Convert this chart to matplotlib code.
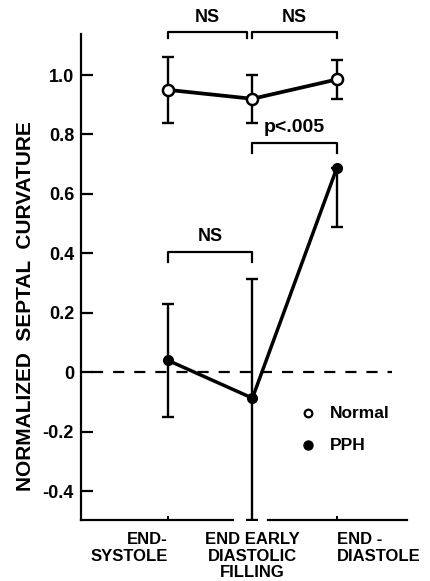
import numpy as np
import matplotlib
matplotlib.use("Agg")
import matplotlib.pyplot as plt

plt.rcParams['font.family'] = ['Liberation Sans', 'DejaVu Sans']
plt.rcParams['font.weight'] = 'bold'

# data
phases = ["END-\nSYSTOLE", "END EARLY\nDIASTOLIC\nFILLING", "END -\nDIASTOLE"]
normal_mean = [0.95, 0.92, 0.985]
normal_err = [0.11, 0.08, 0.065]
pph_mean = [0.04, -0.087, 0.687]
pph_err_low = [0.19, 0.41, 0.20]
pph_err_high = [0.19, 0.40, 0.0]

yticks = [-0.4, -0.2, 0, 0.2, 0.4, 0.6, 0.8, 1.0]
ytick_labels = ["-0.4", "-0.2", "0", "0.2", "0.4", "0.6", "0.8", "1.0"]

x = np.arange(len(phases))

fig = plt.figure(figsize=(4.31, 5.81), dpi=100)
ax = fig.add_axes([0.188, 0.105, 0.756, 0.8365])
ymin, ymax = -0.497, 1.138
ax.set_xlim(-1.03, 2.83)
ax.set_ylim(ymin, ymax)

# zero reference line
ax.plot([-0.9, 2.65], [0, 0], color='black', lw=1.6, dashes=(5, 4.5), zorder=1)

# PPH
ax.errorbar(x, pph_mean, yerr=[pph_err_low, pph_err_high], fmt='none',
            ecolor='black', elinewidth=1.7, capsize=4.5, capthick=1.7, zorder=2)
ax.plot(x, pph_mean, color='black', lw=2.5, marker='o', ms=7,
        mfc='black', mec='black', zorder=3)

# Normal
ax.errorbar(x, normal_mean, yerr=normal_err, fmt='none',
            ecolor='black', elinewidth=1.7, capsize=4.5, capthick=1.7, zorder=2)
ax.plot(x, normal_mean, color='black', lw=2.7, marker='o', ms=8,
        mfc='white', mec='black', mew=1.8, zorder=4)

# axes styling
for s in ['top', 'right', 'bottom']:
    ax.spines[s].set_visible(False)
ax.spines['left'].set_linewidth(1.6)
ax.plot([-1.03, 0.77], [ymin, ymin], color='black', lw=1.6, clip_on=False, zorder=5)
ax.plot([1.18, 2.83], [ymin, ymin], color='black', lw=1.6, clip_on=False, zorder=5)

ax.set_yticks(yticks)
ax.set_yticklabels(ytick_labels, fontsize=13, fontweight='bold')
ax.tick_params(axis='y', direction='in', length=8.5, width=1.6, pad=5)
ax.set_xticks(x)
ax.set_xticklabels(phases, fontsize=12, fontweight='bold', linespacing=1.1)
ax.tick_params(axis='x', direction='in', length=3, width=1.4, pad=9)
for lab, ha in zip(ax.get_xticklabels(), ['right', 'center', 'left']):
    lab.set_ha(ha)

ax.set_ylabel("NORMALIZED  SEPTAL  CURVATURE", fontsize=15, fontweight='bold')
ax.yaxis.set_label_coords(-0.142, 0.44)


def bracket(x0, x1, y, drop, text, fs):
    ax.plot([x0, x0, x1, x1], [y - drop, y, y, y - drop], color='black',
            lw=1.6, clip_on=False)
    ax.text((x0 + x1) / 2, y + 0.022, text, ha='center', va='bottom',
            fontsize=fs, fontweight='bold', clip_on=False)


bracket(0, 0.94, 1.144, 0.02, "NS", 13)
bracket(0.99, 2.0, 1.144, 0.02, "NS", 13)
bracket(1.0, 2.0, 0.772, 0.034, "p<.005", 14)
bracket(0, 1.0, 0.406, 0.034, "NS", 13)

# legend
ax.plot([1.66], [-0.138], marker='o', ms=5.5, mfc='white', mec='black', mew=1.6)
ax.plot([1.66], [-0.245], marker='o', ms=6.5, mfc='black', mec='black')
ax.text(1.92, -0.138, "Normal", va='center', ha='left', fontsize=12.5, fontweight='bold')
ax.text(1.92, -0.245, "PPH", va='center', ha='left', fontsize=12.5, fontweight='bold')

fig.savefig("out.png", dpi=100)
